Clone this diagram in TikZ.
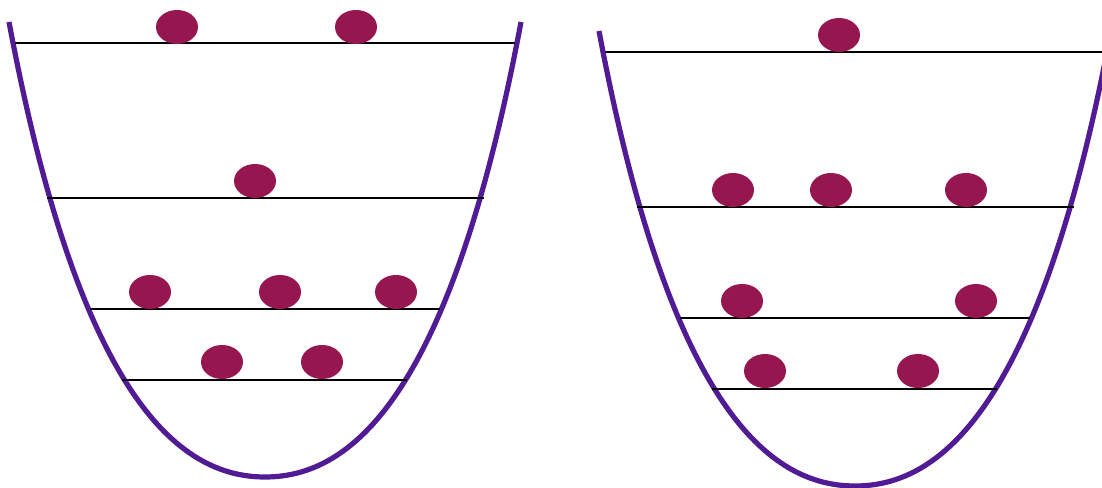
\documentclass[tikz,border=0pt]{standalone}
\usepackage{xcolor}
\usepackage{tikz}
\usetikzlibrary{
  positioning,
  shapes.geometric
}
\definecolor{wellpurple}{RGB}{80,27,148}
\definecolor{dotberry}{RGB}{150,23,80}

\begin{document}
\begin{tikzpicture}[
    x = 0.5pt, y = -0.5pt,
    well/.style = {line width=2.6pt, wellpurple},
    level/.style = {line width=1pt, black},
    particle/.style = {ellipse, fill=dotberry, inner sep=0pt,
                       minimum width=21pt, minimum height=17pt}
]
    \useasboundingbox (0,0) rectangle (1102,487);
    \clip (0,0) rectangle (1102,487);

    % 两个势阱（右侧平移）
    \foreach \dx/\dy in {0/0, 590/9} {
        \begin{scope}[shift={(\dx,\dy)}]
            \draw[well] (9,22) .. controls (80,400) and (180,477) .. (265,477)
                               .. controls (350,477) and (450,400) .. (521,22);
            % 能级
            \foreach \y/\xa/\xb in {43/15/515, 198/47/484, 309/90/440, 380/122/407}
                \draw[level] (\xa,\y) -- (\xb,\y);
        \end{scope}
    }

    % 左侧粒子
    \node[particle] (la1) at (177,27) {};
    \node[particle] (la2) at (356,27) {};
    \node[particle] (lb1) at (255,181) {};
    \node[particle] (lc1) at (150,292) {};
    \node[particle] (lc2) at (280,292) {};
    \node[particle] (lc3) at (396,292) {};
    \node[particle] (ld1) at (222,362) {};
    \node[particle] (ld2) at (322,362) {};

    % 右侧粒子
    \node[particle] (ra1) at (839,35) {};
    \node[particle] (rb1) at (733,190) {};
    \node[particle] (rb2) at (831,190) {};
    \node[particle] (rb3) at (966,190) {};
    \node[particle] (rc1) at (742,301) {};
    \node[particle] (rc2) at (976,301) {};
    \node[particle] (rd1) at (765,371) {};
    \node[particle] (rd2) at (918,371) {};
\end{tikzpicture}
\end{document}
